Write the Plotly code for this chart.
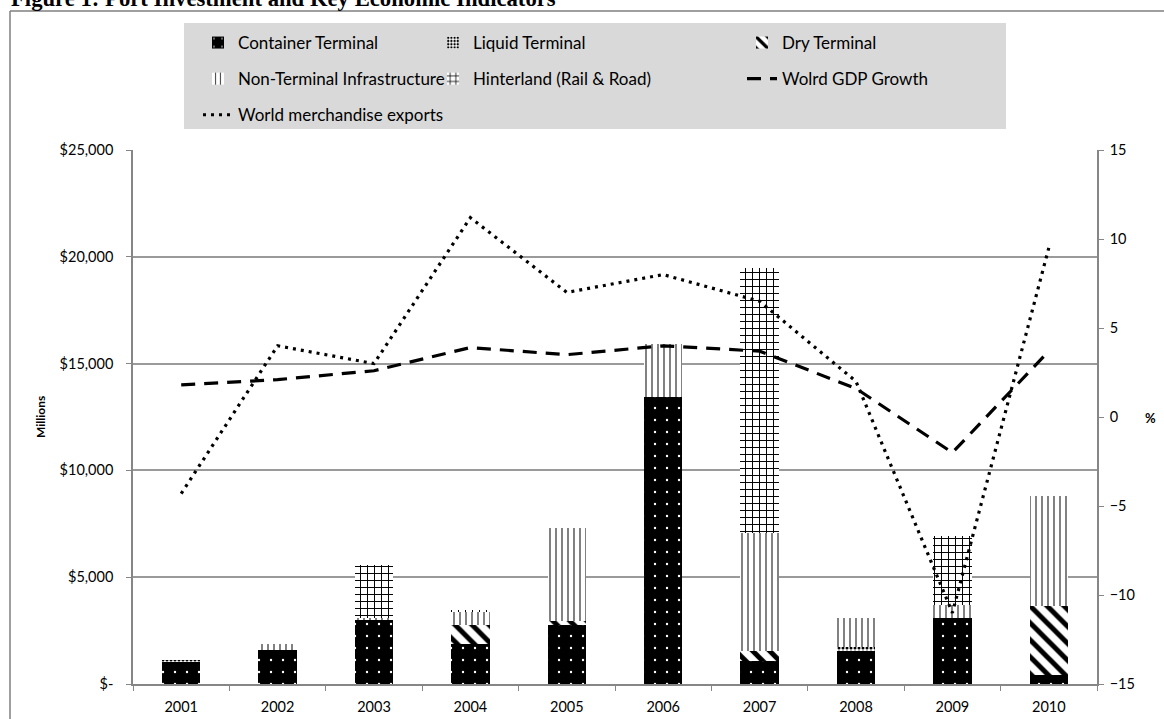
import plotly.graph_objects as go

years = ["2001", "2002", "2003", "2004", "2005", "2006", "2007", "2008", "2009", "2010"]

# Port investment, $ millions (stacked bars)
container = [1050, 1610, 3020, 1880, 2760, 13450, 1080, 1550, 3100, 420]
liquid = [70, 0, 0, 0, 0, 0, 0, 200, 0, 0]
dry = [0, 0, 0, 870, 190, 0, 470, 0, 0, 3250]
non_terminal = [0, 270, 80, 630, 4370, 2450, 5530, 1340, 620, 5130]
hinterland = [0, 0, 2480, 80, 0, 0, 12390, 0, 3200, 0]

# Economic indicators, % (right axis)
gdp_growth = [1.8, 2.1, 2.6, 3.9, 3.5, 4.0, 3.7, 1.6, -2.0, 3.7]
merch_exports = [-4.3, 4.0, 3.0, 11.2, 7.0, 8.0, 6.5, 2.0, -11.0, 9.5]

left_tickvals = [0, 5000, 10000, 15000, 20000, 25000]
left_ticktext = ["$-", "$5,000", "$10,000", "$15,000", "$20,000", "$25,000"]
right_tickvals = [-15, -10, -5, 0, 5, 10, 15]

FONT = "Lato"
AXIS_GRAY = "#868686"

fig = go.Figure()


def add_bar(name, values, shape, fg, bg, size, solidity, legend, group):
    fig.add_trace(go.Bar(
        x=years, y=values, name=name,
        marker=dict(color=bg, line=dict(width=0),
                    pattern=dict(shape=shape, fgcolor=fg, bgcolor=bg,
                                 size=size, solidity=solidity, fillmode="replace")),
        legend=legend, legendgroup=group,
    ))


add_bar("Container Terminal", container, ".", "white", "black", 12, 0.03, "legend", "g1")
add_bar("Liquid Terminal", liquid, ".", "black", "white", 4, 0.45, "legend2", "g2")
add_bar("Dry Terminal", dry, "\\", "black", "white", 12, 0.42, "legend3", "g3")
add_bar("Non-Terminal Infrastructure", non_terminal, "|", "#404040", "white", 6, 0.22, "legend", "g4")
add_bar("Hinterland (Rail & Road)", hinterland, "+", "black", "white", 7, 0.26, "legend2", "g5")

fig.add_trace(go.Scatter(
    x=years, y=gdp_growth, name="Wolrd GDP Growth", mode="lines",
    line=dict(color="black", width=3.2, dash="14px,9px"),
    yaxis="y2", legend="legend3", legendgroup="g6",
))
fig.add_trace(go.Scatter(
    x=years, y=merch_exports, name="World merchandise exports", mode="lines",
    line=dict(color="black", width=3.2, dash="3px,5px"),
    yaxis="y2", legend="legend", legendgroup="g7",
))

W, H = 1164, 719
L, R, T, B = 133, 67, 150, 35
pw, ph = W - L - R, H - T - B


def px(xp):
    return (xp - L) / pw


def py(yp):
    return (H - B - yp) / ph


legend_common = dict(
    orientation="v", bgcolor="rgba(0,0,0,0)", borderwidth=0,
    font=dict(family=FONT, size=17, color="black"),
    tracegroupgap=11, traceorder="grouped",
    xanchor="left", yanchor="top", itemwidth=30,
)

fig.update_layout(
    width=W, height=H,
    margin=dict(l=L, r=R, t=T, b=B, autoexpand=False),
    paper_bgcolor="white", plot_bgcolor="white",
    barmode="stack", bargap=0.6,
    font=dict(family=FONT, size=14, color="black"),
    legend=dict(x=px(198), y=py(25), **legend_common),
    legend2=dict(x=px(433), y=py(25), **legend_common),
    legend3=dict(x=px(742), y=py(25), **legend_common),
    xaxis=dict(
        type="category", tickson="boundaries", ticks="outside", ticklen=5,
        tickcolor=AXIS_GRAY, showline=True, linecolor=AXIS_GRAY, linewidth=1.5,
        showgrid=False, tickfont=dict(family=FONT, size=14.5, color="black"),
        ticklabelstandoff=9, automargin=False,
    ),
    yaxis=dict(
        range=[0, 25000], tickvals=left_tickvals, ticktext=left_ticktext,
        ticks="outside", ticklen=5, tickcolor=AXIS_GRAY, showline=True,
        linecolor=AXIS_GRAY, linewidth=1.5, showgrid=True, gridcolor="#9a9a9a",
        gridwidth=1.5, zeroline=False, tickfont=dict(family=FONT, size=14.5, color="black"),
        ticklabelstandoff=10, automargin=False,
    ),
    yaxis2=dict(
        range=[-15, 15], tickvals=right_tickvals, overlaying="y", side="right",
        ticks="outside", ticklen=5, tickcolor=AXIS_GRAY, showline=True,
        linecolor=AXIS_GRAY, linewidth=1.5, showgrid=False, zeroline=False,
        tickfont=dict(family=FONT, size=14.5, color="black"), ticklabelstandoff=3,
        automargin=False,
    ),
    shapes=[
        dict(type="rect", xref="paper", yref="paper", x0=px(184), x1=px(1006),
             y0=py(129), y1=py(23), fillcolor="#d9d9d9", line=dict(width=0), layer="below"),
        dict(type="line", xref="paper", yref="paper", x0=px(10), x1=px(1200),
             y0=py(11), y1=py(11), line=dict(color="#7f7f7f", width=1.5)),
        dict(type="line", xref="paper", yref="paper", x0=px(10), x1=px(10),
             y0=py(11), y1=py(740), line=dict(color="#7f7f7f", width=1.5)),
    ],
    annotations=[
        dict(text="<b>Figure 1: Port Investment and Key Economic Indicators</b>",
             xref="paper", yref="paper", x=px(9), y=py(13), xanchor="left", yanchor="bottom",
             showarrow=False, font=dict(family="Liberation Serif", size=22.7, color="black")),
        dict(text="<b>Millions</b>", xref="paper", yref="paper", x=px(40), y=0.5,
             xanchor="center", yanchor="middle",
             textangle=-90, showarrow=False, font=dict(family=FONT, size=12, color="black")),
        dict(text="<b>%</b>", xref="paper", yref="paper", x=px(1150), y=py(418),
             xanchor="center", yanchor="middle",
             showarrow=False, font=dict(family=FONT, size=13, color="black")),
    ],
)

fig.write_html("out.html")
